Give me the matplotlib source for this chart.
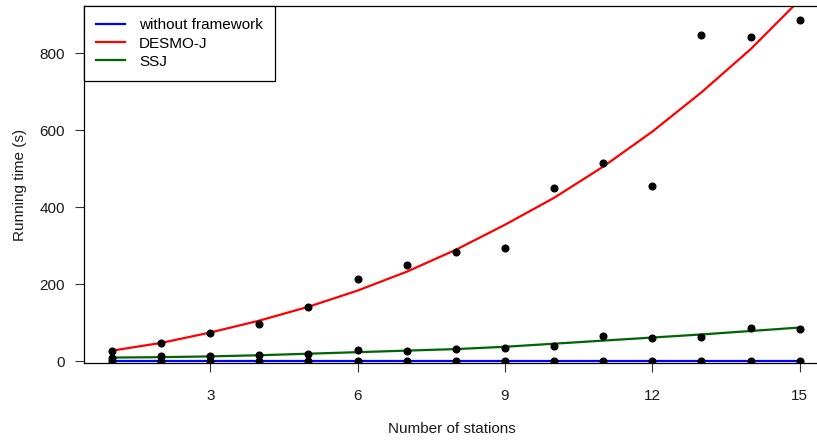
import matplotlib
matplotlib.use("Agg")
import matplotlib.pyplot as plt

plt.rcParams["font.family"] = ["Liberation Sans", "DejaVu Sans"]

# number of stations
stations = list(range(1, 16))

# measured running times (s)
desmoj_obs = [27, 47, 74, 96, 140, 213, 249, 283, 294, 449, 515, 455, 846, 841, 887]
ssj_obs = [8, 14, 14, 15, 19, 29, 26, 31, 35, 39, 66, 60, 63, 86, 84]
plain_obs = [1, 1, 1, 1, 1, 1, 1, 1, 1, 1, 1, 1, 1, 1, 1]

# fitted curves
desmoj_fit = [27, 47, 74, 105, 141, 183, 232, 289, 354, 424, 505, 596, 698, 810, 938]
ssj_fit = [9, 10, 12, 15, 19, 23, 27, 31, 37, 45, 53, 61, 69, 78, 87]
plain_fit = [1, 1, 1, 1, 1, 1, 1, 1, 1, 1, 1, 1, 1, 1, 1]

fig = plt.figure(figsize=(8.17, 4.41), dpi=100)
ax = fig.add_axes([0.1028, 0.177, 0.9, 0.809])

ax.plot(stations, plain_fit, color="#0000ff", lw=1.6, label="without framework", zorder=2)
ax.plot(stations, desmoj_fit, color="#ff0000", lw=1.6, label="DESMO-J", zorder=2)
ax.plot(stations, ssj_fit, color="#006400", lw=1.6, label="SSJ", zorder=2)

for obs in (plain_obs, desmoj_obs, ssj_obs):
    ax.plot(stations, obs, "o", color="black", ms=4.8, zorder=3)

ax.set_xlim(0.43, 15.4)
ax.set_ylim(-5, 922)
ax.set_xticks([3, 6, 9, 12, 15])
ax.set_yticks([0, 200, 400, 600, 800])
ax.tick_params(axis="both", direction="out", length=6.5, width=0.8,
               labelsize=11, colors="#333333", labelcolor="#1a1a1a")
ax.tick_params(axis="x", pad=12)
ax.tick_params(axis="y", pad=7)

ax.spines["right"].set_visible(False)
for side in ("left", "bottom", "top"):
    ax.spines[side].set_linewidth(0.9)

ax.set_xlabel("Number of stations", fontsize=11, labelpad=14, color="#1a1a1a")
ax.set_ylabel("Running time (s)", fontsize=11, labelpad=9, color="#1a1a1a")

leg = ax.legend(loc="upper left", bbox_to_anchor=(0, 1), borderaxespad=0,
                fancybox=False, edgecolor="black", fontsize=11,
                handlelength=1.9, handletextpad=0.9, labelspacing=0.27,
                borderpad=0.8, framealpha=1)
leg.get_frame().set_linewidth(0.9)

fig.savefig("out.png", dpi=100)
